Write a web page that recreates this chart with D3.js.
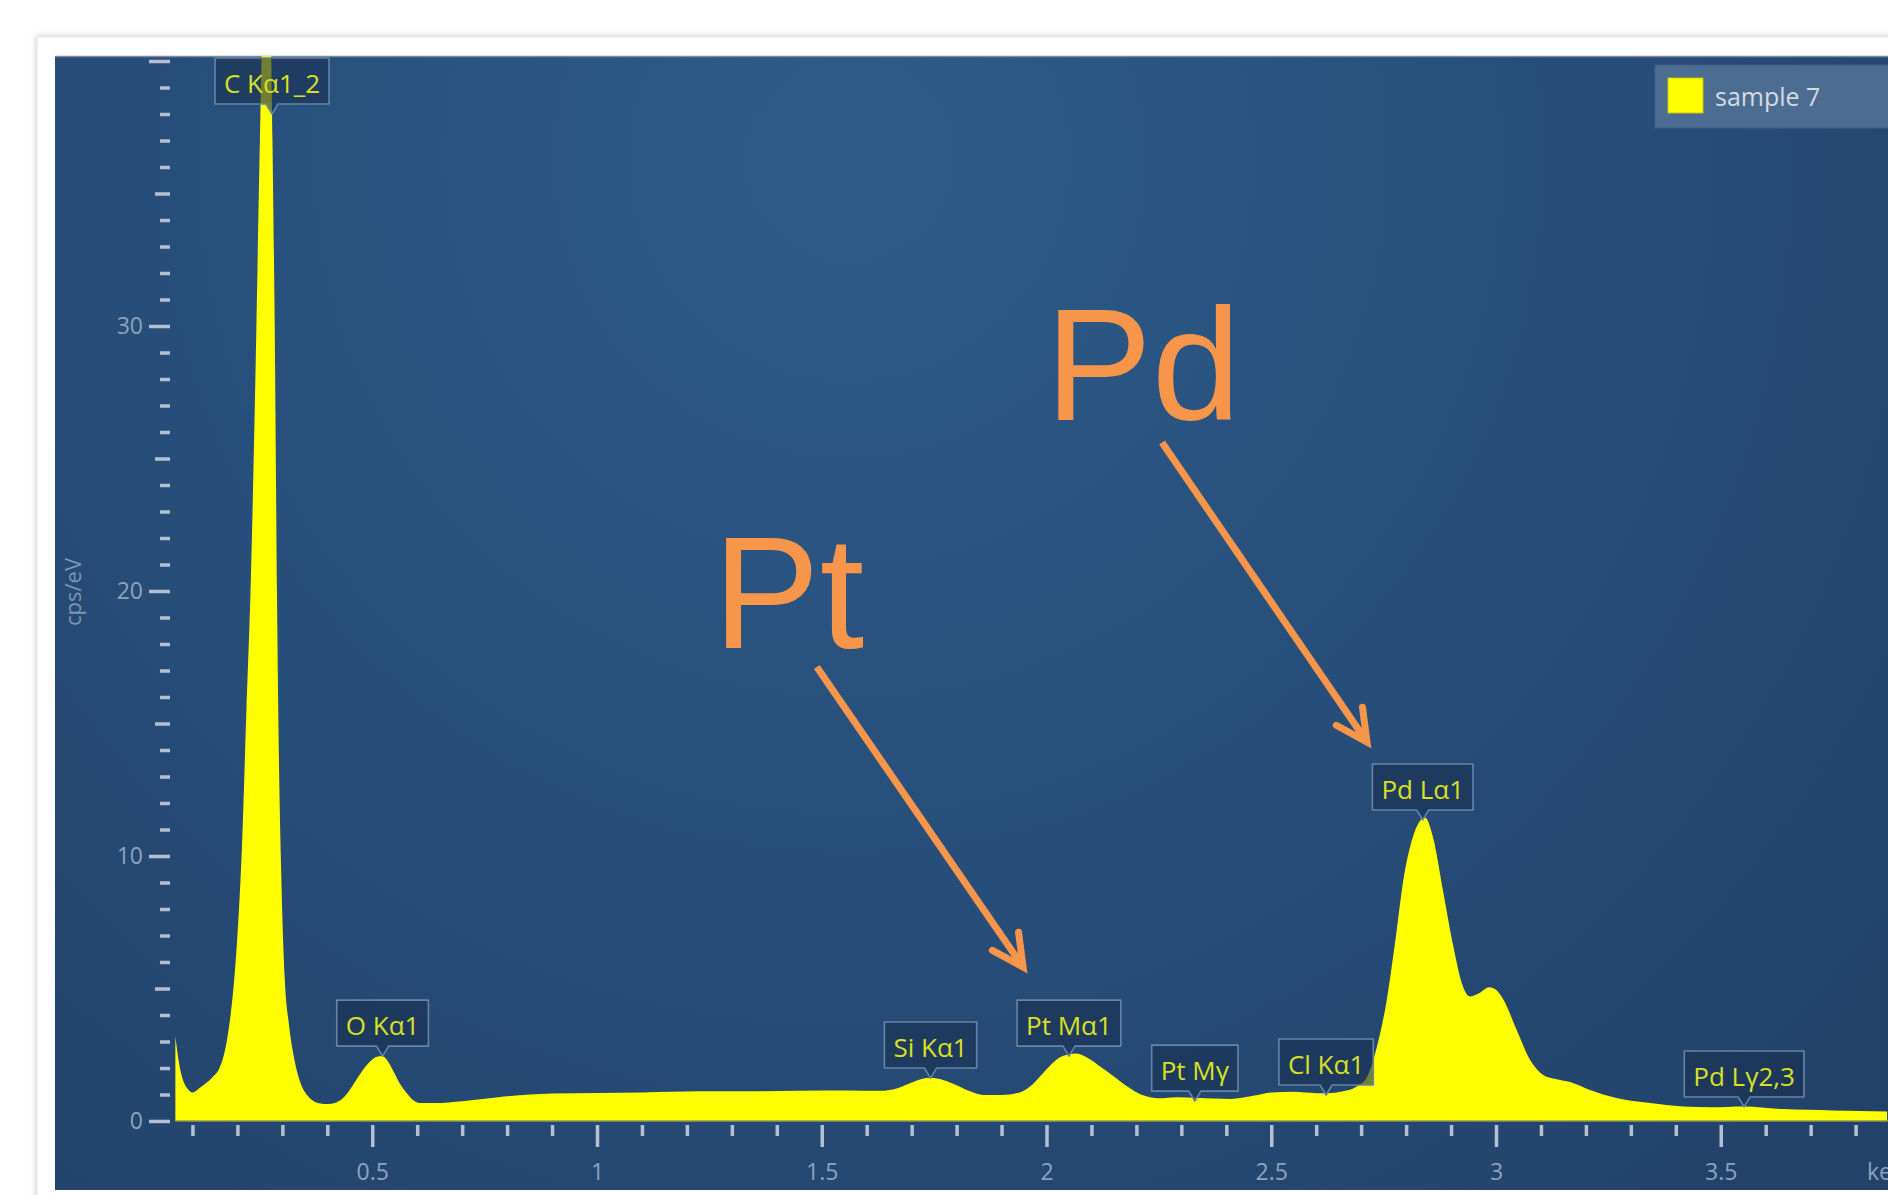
<!DOCTYPE html>
<html><head><meta charset="utf-8">
<script src="https://cdn.jsdelivr.net/npm/d3@7"></script>
<style>
html,body{margin:0;padding:0;background:#fff;overflow:hidden}
svg{display:block}
</style>
</head><body>
<svg id="chart" width="1888" height="1195"></svg>
<script>
// ---------------- DATA ----------------
const energyKeV = [0.062,0.07,0.08,0.09,0.10,0.12,0.145,0.16,0.17,0.18,0.19,0.20,0.21,0.22,0.23,0.24,0.25,0.258,0.265,0.272,0.278,0.283,0.288,0.293,0.298,0.305,0.315,0.327,0.339,0.355,0.37,0.385,0.40,0.42,0.44,0.455,0.47,0.49,0.51,0.522,0.535,0.548,0.562,0.577,0.59,0.605,0.64,0.70,0.78,0.90,1.00,1.10,1.23,1.35,1.45,1.56,1.63,1.67,1.70,1.72,1.743,1.77,1.80,1.83,1.86,1.90,1.94,1.97,2.00,2.025,2.05,2.065,2.09,2.12,2.15,2.18,2.21,2.25,2.29,2.333,2.37,2.41,2.46,2.50,2.55,2.60,2.624,2.66,2.69,2.713,2.735,2.757,2.776,2.794,2.813,2.83,2.842,2.86,2.882,2.905,2.924,2.942,2.96,2.985,3.00,3.017,3.046,3.076,3.105,3.135,3.165,3.209,3.268,3.343,3.416,3.48,3.55,3.638,3.75,3.87];
const countsCpsEV = [3.2,2.2,1.5,1.2,1.08,1.3,1.66,2.0,2.5,3.4,4.8,7.0,10.3,15.5,20.5,28,37,43,45,43,37,30,20,13,9,5.5,3.6,2.3,1.5,0.98,0.75,0.66,0.64,0.7,0.95,1.3,1.7,2.15,2.42,2.45,2.25,1.85,1.4,1.05,0.8,0.68,0.68,0.75,0.9,1.04,1.06,1.08,1.12,1.12,1.14,1.15,1.14,1.25,1.45,1.58,1.63,1.55,1.35,1.12,0.98,0.98,1.08,1.4,1.95,2.35,2.52,2.55,2.4,2.05,1.68,1.3,1.0,0.86,0.9,0.88,0.85,0.83,0.95,1.08,1.1,1.05,1.05,1.12,1.3,1.66,2.8,4.57,6.8,9.1,10.6,11.3,11.45,10.7,8.7,6.6,5.2,4.7,4.8,5.05,4.95,4.57,3.43,2.3,1.74,1.58,1.47,1.17,0.87,0.68,0.55,0.52,0.55,0.45,0.4,0.36];

const peakNames   = ["C K\u03b11_2","O K\u03b11","Si K\u03b11","Pt M\u03b11","Pt M\u03b3","Cl K\u03b11","Pd L\u03b11","Pd L\u03b32,3"];
const peakEnergy  = [0.277,0.523,1.742,2.05,2.33,2.622,2.837,3.552];
const peakHeight  = [38.0,2.45,1.62,2.45,0.75,0.98,11.36,0.53];

const yTickLabels = [0,10,20,30];
const xTickLabels = [0.5,1,1.5,2,2.5,3,3.5];
const seriesName  = "sample 7";

const annotText   = ["Pt","Pd"];
const annotAtKeV  = [1.258,1.997];
const annotAtCps  = [17.85,26.45];
const arrowFromKeV = [1.489,2.257];
const arrowFromCps = [17.13,25.6];
const arrowToKeV   = [1.948,2.713];
const arrowToCps   = [5.81,14.3];

// ---------------- LAYOUT ----------------
const svg = d3.select("#chart");
const plot = {x0:55, y0:56, x1:1888, y1:1190};
const x = d3.scaleLinear().domain([0,4]).range([147.5, 147.5 + 449.5*4]);
const y = d3.scaleLinear().domain([0,40]).range([1121, 61]);

const defs = svg.append("defs");
const rg = defs.append("radialGradient").attr("id","bg")
  .attr("gradientUnits","userSpaceOnUse").attr("cx",850).attr("cy",160).attr("r",1350);
rg.append("stop").attr("offset",0).attr("stop-color","#2d5c88");
rg.append("stop").attr("offset",0.45).attr("stop-color","#28507d");
rg.append("stop").attr("offset",1).attr("stop-color","#22426a");
defs.append("clipPath").attr("id","clip").append("rect")
  .attr("x",plot.x0).attr("y",plot.y0).attr("width",plot.x1-plot.x0).attr("height",plot.y1-plot.y0);
const sh = defs.append("filter").attr("id","cardShadow").attr("x","-5%").attr("y","-5%").attr("width","110%").attr("height","110%");
sh.append("feDropShadow").attr("dx",-1).attr("dy",-1).attr("stdDeviation",2.5).attr("flood-color","#000").attr("flood-opacity",0.18);

// card and plot background
svg.append("rect").attr("x",37).attr("y",37).attr("width",1900).attr("height",1200)
  .attr("fill","#fff").attr("stroke","#e2e2e2").attr("filter","url(#cardShadow)");
svg.append("rect").attr("x",plot.x0).attr("y",plot.y0).attr("width",plot.x1-plot.x0).attr("height",plot.y1-plot.y0)
  .attr("fill","url(#bg)");
svg.append("line").attr("x1",plot.x0).attr("x2",plot.x1).attr("y1",plot.y0+0.5).attr("y2",plot.y0+0.5)
  .attr("stroke","#7d8a98").attr("stroke-width",1.5);

const tickColor = "#b3c0d1";
const labelColor = "#8ea2bd";
const uiFont = "'Open Sans', 'Noto Sans', sans-serif";

// ---------------- SPECTRUM ----------------
const data = energyKeV.map((e,i)=>({e, c: countsCpsEV[i]}));
const area = d3.area().x(d=>x(d.e)).y0(y(0)).y1(d=>y(d.c)).curve(d3.curveMonotoneX);
const gPlot = svg.append("g").attr("clip-path","url(#clip)");
gPlot.append("path").datum(data).attr("d",area).attr("fill","#ffff00");
gPlot.append("line").attr("x1",x(energyKeV[0])).attr("x2",plot.x1).attr("y1",y(0)).attr("y2",y(0))
  .attr("stroke","#8f9a55").attr("stroke-width",1.5);

// ---------------- AXES ----------------
const yAxis = d3.axisLeft(y).tickValues(d3.range(0,41)).tickSize(10)
  .tickFormat(d => yTickLabels.includes(d) ? d : "");
const gY = svg.append("g").attr("transform","translate(170,0)").call(yAxis);
gY.select(".domain").remove();
gY.selectAll(".tick line")
  .attr("x2", d => d%10===0 ? -21 : (d%5===0 ? -15 : -10))
  .attr("stroke",tickColor).attr("stroke-width",3.5);
gY.selectAll(".tick text").attr("x",-27).attr("fill",labelColor)
  .style("font-family",uiFont).style("font-size","23px");

const xAxis = d3.axisBottom(x).tickValues(d3.range(1,40).map(i=>i/10)).tickSize(11)
  .tickFormat(d => xTickLabels.some(v=>Math.abs(v-d)<1e-9) ? String(+d.toFixed(1)) : "");
const gX = svg.append("g").attr("transform","translate(0,1125)").call(xAxis);
gX.select(".domain").remove();
gX.selectAll(".tick line")
  .attr("y2", d => xTickLabels.some(v=>Math.abs(v-d)<1e-9) ? 22 : 11)
  .attr("stroke",tickColor).attr("stroke-width",3.5);
gX.selectAll(".tick text").attr("y",55).attr("dy",0).attr("fill",labelColor)
  .style("font-family",uiFont).style("font-size","23px");
svg.append("text").attr("x",1867).attr("y",1180).text("keV").attr("fill",labelColor)
  .style("font-family",uiFont).style("font-size","23px");

svg.append("text").attr("transform","translate(75,592) rotate(-90)").attr("text-anchor","middle")
  .attr("dominant-baseline","middle").text("cps/eV").attr("fill","#7f95b3")
  .style("font-family",uiFont).style("font-size","22px");

// ---------------- PEAK LABELS ----------------
peakNames.forEach((name,i)=>{
  const cx = x(peakEnergy[i]);
  const tip = y(peakHeight[i]);
  const bottom = tip - 10, top = bottom - 46;
  const g = svg.append("g");
  const box = g.append("path");
  const t = g.append("text").attr("x",cx).attr("y",bottom-11).attr("text-anchor","middle")
    .text(name).attr("fill","#d8e024").style("font-family",uiFont).style("font-size","26px");
  const w = t.node().getComputedTextLength() + 18;
  const l = cx - w/2, r = cx + w/2;
  box.attr("d",`M${l},${top} H${r} V${bottom} H${cx+6} L${cx},${tip} L${cx-6},${bottom} H${l} Z`)
    .attr("fill","#1a3050").attr("fill-opacity",0.62)
    .attr("stroke","#6684a6").attr("stroke-width",1.6).attr("stroke-linejoin","round");
});

// ---------------- LEGEND ----------------
const lg = svg.append("g");
lg.append("rect").attr("x",1655).attr("y",65).attr("width",260).attr("height",63)
  .attr("fill","#4d6c91").attr("stroke","#435f80").attr("stroke-width",1);
lg.append("rect").attr("x",1668).attr("y",78).attr("width",35).attr("height",35).attr("fill","#ffff00")
  .attr("stroke","#c9c900").attr("stroke-width",1);
lg.append("text").attr("x",1715).attr("y",106).text(seriesName).attr("fill","#d3dbe5")
  .style("font-family",uiFont).style("font-size","25px");

// ---------------- ANNOTATIONS ----------------
const orange = "#f7964a";
annotText.forEach((s,i)=>{
  svg.append("text").attr("x",x(annotAtKeV[i])).attr("y",y(annotAtCps[i])).text(s)
    .attr("fill",orange).style("font-family","'Liberation Sans', Arial, sans-serif").style("font-size","160px");
  const x1 = x(arrowFromKeV[i]), y1 = y(arrowFromCps[i]);
  const x2 = x(arrowToKeV[i]),   y2 = y(arrowToCps[i]);
  const ang = Math.atan2(y2-y1, x2-x1);
  const L = 35, spread = 27*Math.PI/180;
  const a1 = ang + Math.PI - spread, a2 = ang + Math.PI + spread;
  svg.append("line").attr("x1",x1).attr("y1",y1).attr("x2",x2).attr("y2",y2)
    .attr("stroke",orange).attr("stroke-width",7).attr("stroke-linecap","butt");
  svg.append("path")
    .attr("d",`M${x2+L*Math.cos(a1)},${y2+L*Math.sin(a1)} L${x2},${y2} L${x2+L*Math.cos(a2)},${y2+L*Math.sin(a2)}`)
    .attr("fill","none").attr("stroke",orange).attr("stroke-width",7)
    .attr("stroke-linecap","round").attr("stroke-linejoin","miter");
});
</script>
</body></html>
